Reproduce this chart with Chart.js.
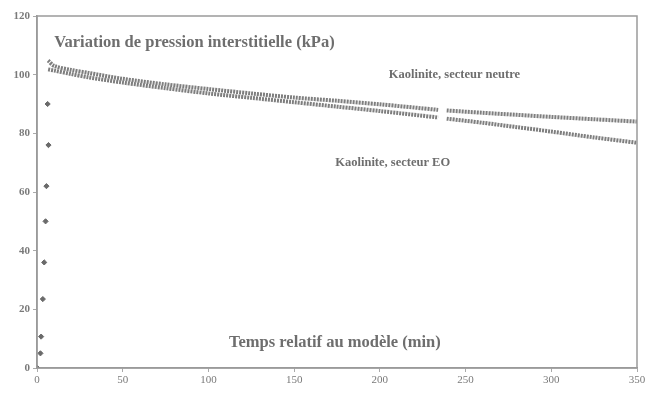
<!DOCTYPE html>
<html>
<head>
<meta charset="utf-8">
<script src="https://cdn.jsdelivr.net/npm/chart.js@4/dist/chart.umd.min.js"></script>
<style>
  html, body { margin: 0; padding: 0; background: #ffffff; }
  #wrap { width: 656px; height: 393px; }
</style>
</head>
<body>
<div id="wrap"><canvas id="pression"></canvas></div>
<script>
// montee initiale (points isoles)
const riseTime = [0.2, 2, 2.4, 3.4, 4.2, 5, 5.5, 6.2, 6.7];
const riseKpa = [0, 5, 10.7, 23.5, 36, 50, 62, 90, 76];

// secteur neutre (courbe du haut), null = trou dans l'enregistrement
const neutreTime = [6.5, 10, 20, 30, 50, 75, 100, 125, 150, 175, 200, 234, 236, 239, 260, 280, 300, 325, 350];
const neutreKpa = [104.8, 103, 101.6, 100.6, 98.6, 96.7, 95.1, 93.6, 92.2, 91.1, 89.9, 88, null, 87.8, 87, 86.3, 85.6, 84.8, 84];

// secteur EO (courbe du bas)
const eoTime = [6.5, 10, 20, 30, 50, 75, 100, 125, 150, 175, 200, 234, 236, 239, 260, 280, 300, 325, 350];
const eoKpa = [101.8, 101.4, 100.2, 99.1, 97.3, 95.4, 93.6, 92.1, 90.6, 89.1, 87.6, 85.4, null, 85, 83.6, 82.1, 80.6, 78.6, 76.8];

const xTicks = [0, 50, 100, 150, 200, 250, 300, 350];
const yTicks = [0, 20, 40, 60, 80, 100, 120];

function toPoints(xs, ys){
    return xs.map((x, i) => ({ x: x, y: ys[i] }));
}

const grey = '#7a7a7a';
const serif = '"Liberation Serif", "DejaVu Serif", serif';

// cadre + textes places dans la zone du graphique
const annotations = {
    id: 'annotations',
    afterDraw(chart){
        const ctx = chart.ctx;
        const a = chart.chartArea;
        const xs = chart.scales.x;
        const ys = chart.scales.y;
        ctx.save();
        ctx.strokeStyle = '#9a9a9a';
        ctx.lineWidth = 1.5;
        ctx.strokeRect(a.left, a.top, a.right - a.left, a.bottom - a.top);

        ctx.fillStyle = '#6e6e6e';
        ctx.textBaseline = 'middle';
        ctx.textAlign = 'left';
        ctx.font = 'bold 16.5px ' + serif;
        ctx.fillText('Variation de pression interstitielle (kPa)', xs.getPixelForValue(10), ys.getPixelForValue(111));
        ctx.fillText('Temps relatif au modèle (min)', xs.getPixelForValue(112), ys.getPixelForValue(8.5));

        ctx.font = 'bold 12.5px ' + serif;
        ctx.textAlign = 'center';
        ctx.fillText('Kaolinite, secteur neutre', xs.getPixelForValue(243.5), ys.getPixelForValue(99.8));
        ctx.fillText('Kaolinite, secteur EO', xs.getPixelForValue(207.5), ys.getPixelForValue(70));
        ctx.restore();
    }
};

const ctx = document.getElementById('pression').getContext('2d');
const chart = new Chart(ctx, {
    type: 'scatter',
    data: {
        datasets: [{
            label: 'montée',
            data: toPoints(riseTime, riseKpa),
            pointStyle: 'rectRot',
            pointRadius: 2.6,
            backgroundColor: '#6a6a6a',
            borderColor: '#6a6a6a',
            showLine: false
        }, {
            label: 'Kaolinite, secteur neutre',
            data: toPoints(neutreTime, neutreKpa),
            showLine: true,
            spanGaps: false,
            borderColor: '#7e7e7e',
            borderWidth: 4,
            borderDash: [2, 1],
            tension: 0.3,
            pointRadius: 0
        }, {
            label: 'Kaolinite, secteur EO',
            data: toPoints(eoTime, eoKpa),
            showLine: true,
            spanGaps: false,
            borderColor: '#7e7e7e',
            borderWidth: 4,
            borderDash: [2, 1],
            tension: 0.3,
            pointRadius: 0
        }]
    },
    options: {
        responsive: true,
        maintainAspectRatio: false,
        animation: false,
        layout: { padding: { left: 0, right: 19, top: 16, bottom: 0 } },
        plugins: {
            legend: { display: false },
            tooltip: { enabled: false }
        },
        scales: {
            x: {
                type: 'linear',
                min: 0,
                max: 350,
                afterBuildTicks: s => { s.ticks = xTicks.map(v => ({ value: v })); },
                afterFit: s => { s.height = 25; },
                grid: { display: true, drawOnChartArea: false, tickLength: 4, color: '#aaaaaa' },
                border: { color: '#9a9a9a', width: 1.5 },
                ticks: { color: grey, font: { family: serif, size: 11 }, padding: 2, maxRotation: 0 }
            },
            y: {
                min: 0,
                max: 120,
                afterBuildTicks: s => { s.ticks = yTicks.map(v => ({ value: v })); },
                afterFit: s => { s.width = 37; },
                grid: { display: true, drawOnChartArea: false, tickLength: 4, color: '#aaaaaa' },
                border: { color: '#9a9a9a', width: 1.5 },
                ticks: { color: grey, font: { family: serif, size: 11, weight: 'bold' }, padding: 3 }
            }
        }
    },
    plugins: [annotations]
});
</script>
</body>
</html>
